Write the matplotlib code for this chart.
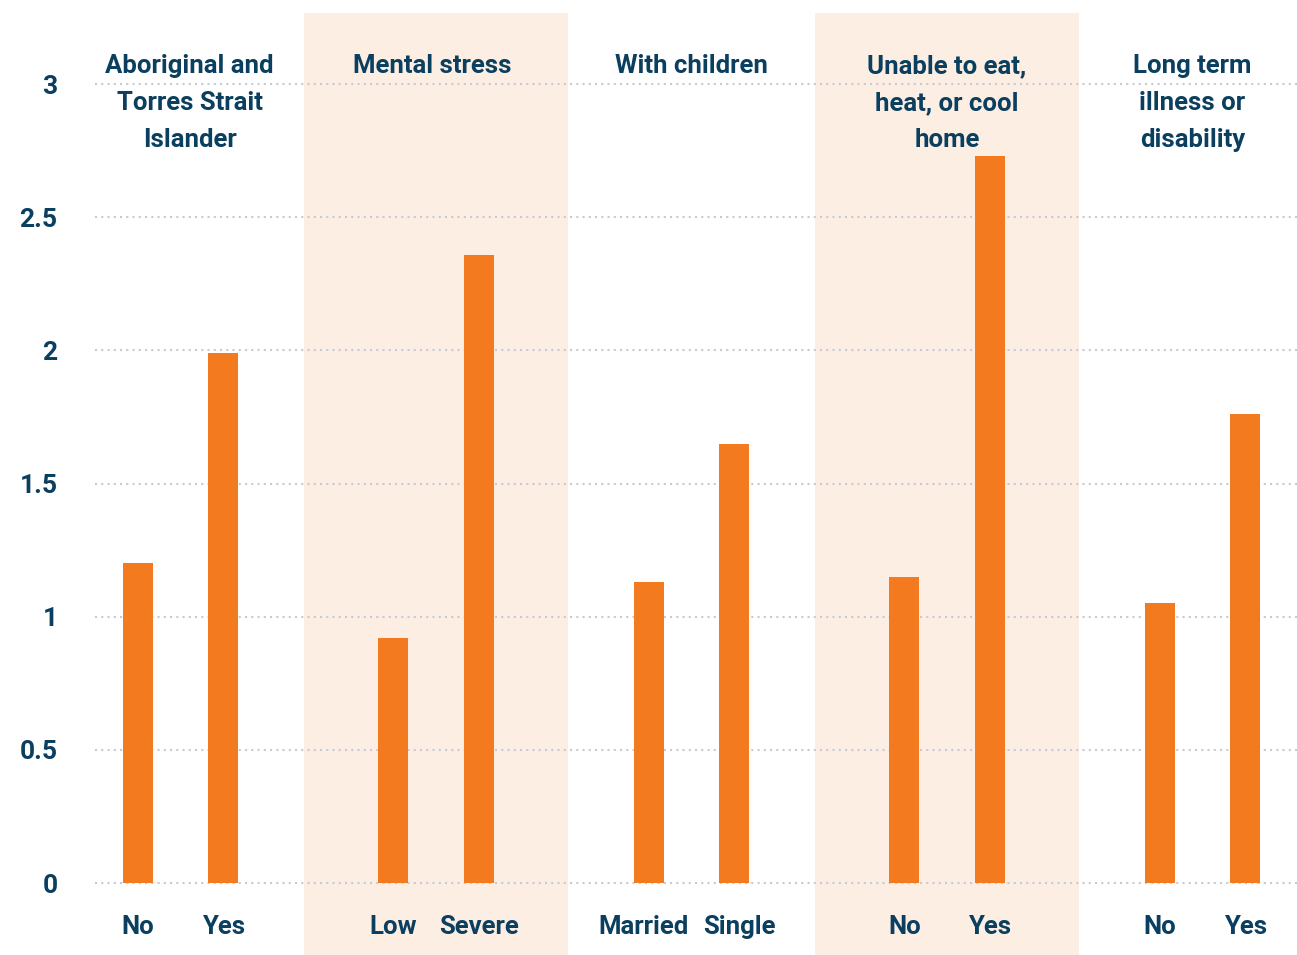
import numpy as np
import matplotlib.pyplot as plt

# groups and their two bars
groups = ["Aboriginal and\nTorres Strait\nIslander", "Mental stress", "With children",
          "Unable to eat,\nheat, or cool\nhome", "Long term\nillness or\ndisability"]
bar_labels = [["No", "Yes"], ["Low", "Severe"], ["Married", "Single"], ["No", "Yes"], ["No", "Yes"]]
values = [[1.2, 1.99], [0.92, 2.36], [1.13, 1.65], [1.15, 2.73], [1.05, 1.76]]
shaded = [1, 3]
title_shift = [0.035, -0.015, 0.0, 0.0, -0.04]

navy = "#0B3F5F"
orange = "#F47A20"
fnt = ["Roboto", "DejaVu Sans"]

W, H = 1297, 955
fig = plt.figure(figsize=(W / 100, H / 100), dpi=100)
ax = fig.add_axes([95 / W, 0, 1 - 95 / W, 1 - 13 / H])

offs = 0.167
for i in range(len(groups)):
    if i in shaded:
        ax.axvspan(i - 0.517, i + 0.517, color="#FDEEE4", zorder=0, lw=0)
    xs = [i - offs, i + offs]
    ax.bar(xs, values[i], width=0.117, color=orange, zorder=3)
    # long labels get pushed apart a little so they don't touch
    spread = 0.022 if len(bar_labels[i][0]) > 4 else 0.0
    for x, lab, d in zip(xs, bar_labels[i], [-spread, spread]):
        ax.text(x + d, -0.19, lab, ha="center", va="baseline", fontsize=18.5,
                fontweight="bold", color=navy, family=fnt)
    for k, line in enumerate(groups[i].split("\n")):
        ax.text(i + title_shift[i], 3.04 - 0.139 * k, line, ha="center", va="baseline",
                fontsize=18.5, fontweight="bold", color=navy, family=fnt, zorder=4)

ax.set_xlim(-0.335, 4.37)
ax.set_ylim(-0.27, 3.267)
ax.set_yticks([0, 0.5, 1, 1.5, 2, 2.5, 3])
ax.set_yticklabels(["0", "0.5", "1", "1.5", "2", "2.5", "3"], fontsize=19,
                   fontweight="bold", color=navy, family=fnt)
ax.tick_params(axis="y", length=0, pad=27)
ax.tick_params(axis="x", bottom=False, labelbottom=False)
ax.grid(axis="y", color="#C5CAD6", linestyle=(0, (1, 2)), linewidth=1.5, zorder=1)
for s in ax.spines.values():
    s.set_visible(False)
ax.patch.set_alpha(0)

fig.savefig("out.png", dpi=100)
